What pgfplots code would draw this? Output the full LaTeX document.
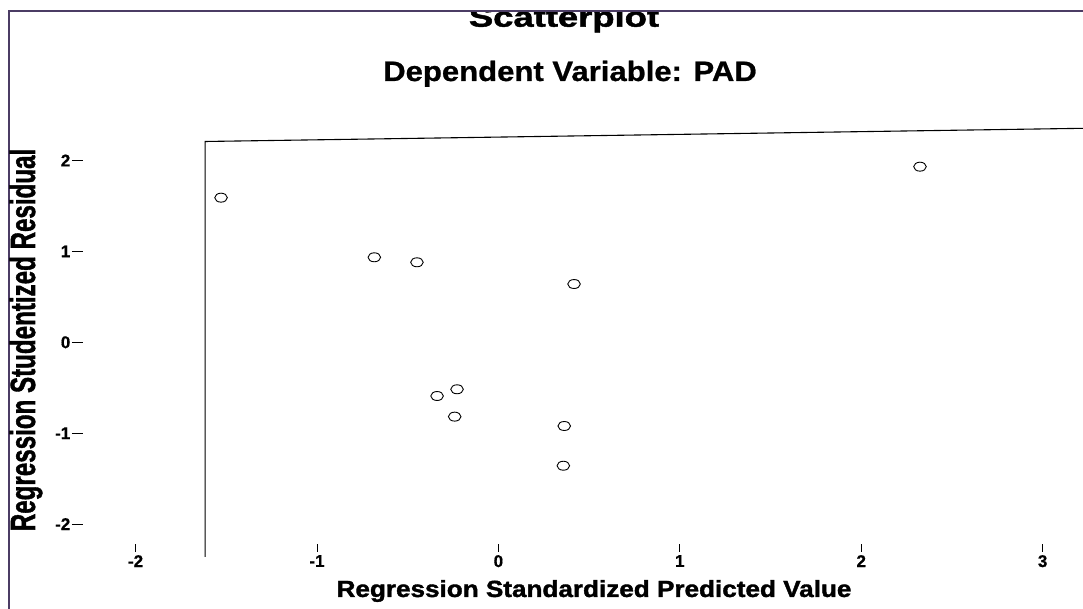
\documentclass[border=0pt]{standalone}
\usepackage{pgfplots}
\pgfplotsset{compat=1.18}
\usepackage{fontspec}
\setmainfont{Liberation Sans}
\newfontfamily\heavyfont[FakeBold=1.5]{Liberation Sans Bold}
\newfontfamily\semiheavyfont[FakeBold=0.8]{Liberation Sans Bold}
\usepackage{graphicx}
\definecolor{framepurple}{HTML}{4B3C64}

\begin{document}
\begin{tikzpicture}
\begin{axis}[
  name=ax,
  scale only axis, width=1000pt, height=416pt,
  xmin=-2.2900, xmax=3.2227, ymin=-2.2189, ymax=2.3575,
  axis line style={draw=none},
  xtick={-2,-1,0,1,2,3}, xticklabels={-2,-1,0,1,2,3},
  ytick={-2,-1,0,1,2}, yticklabels={-2,-1,0,1,2},
  xtick pos=bottom, ytick pos=left, tick align=outside,
  major tick length=11pt,
  xtick style={/pgfplots/major tick length=8pt, line width=0.8pt, black},
  ytick style={line width=0.8pt, black},
  tick label style={font=\fontsize{17}{20}\selectfont\semiheavyfont},
  yticklabel style={inner sep=1.5pt},
  xticklabel style={inner sep=1pt, yshift=1pt},
  xlabel={\scalebox{1.12}[1]{Regression Standardized Predicted Value}},
  xlabel style={font=\fontsize{23.3}{26}\selectfont\heavyfont, at={(rel axis cs:0.511,-0.1274)}, anchor=base},
  ylabel={\scalebox{0.69}[1]{Regression Studentized Residual}},
  ylabel style={font=\fontsize{35}{40}\selectfont\heavyfont, at={(rel axis cs:-0.048,0.4904)}, anchor=base},
  clip=false,
]
\addplot[only marks, mark=o, mark size=4.5pt, mark options={xscale=1.4, line width=0.9pt, draw=black}] coordinates {
  (-1.529, 1.591)
  (-0.684, 0.935)
  (-0.449, 0.880)
  (0.417, 0.641)
  (2.324, 1.932)
  (-0.338, -0.591)
  (-0.228, -0.517)
  (-0.241, -0.818)
  (0.363, -0.921)
  (0.358, -1.358)
};
% plot frame lines (left and slanted top)
\draw[black, line width=1.1pt] (axis cs:-1.617,-2.362) -- (axis cs:-1.617,2.209) -- (axis cs:3.2227,2.354);
% titles
\node[font=\fontsize{28}{32}\selectfont\semiheavyfont, anchor=base] at (rel axis cs:0.487,1.113) {\scalebox{1.11}[1]{Dependent Variable: PAD}};
\node[font=\fontsize{28}{32}\selectfont\heavyfont, anchor=base] at (rel axis cs:0.481,1.2435) {\scalebox{1.3}[1]{Scatterplot}};
% white band above outer frame (cuts the title)
\fill[white] (rel axis cs:-0.083,1.2813) rectangle (rel axis cs:1.0,1.32);
% outer frame
\draw[framepurple, line width=2.5pt] (rel axis cs:-0.074,-0.157) -- (rel axis cs:-0.074,1.28125) -- (rel axis cs:1.0,1.28125);
\coordinate (tl) at (rel axis cs:-0.083,1.3077);
\coordinate (br) at (rel axis cs:1.0,-0.15625);
\end{axis}
\pgfresetboundingbox
\path[use as bounding box] (tl) rectangle (br);
\end{tikzpicture}
\end{document}
